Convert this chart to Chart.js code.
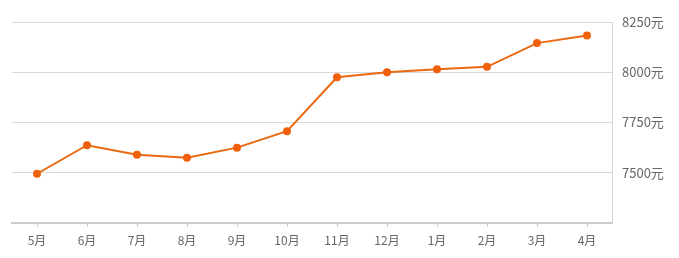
<!DOCTYPE html>
<html><head><meta charset="utf-8">
<script src="https://cdn.jsdelivr.net/npm/chart.js@4"></script>
<style>html,body{margin:0;padding:0;background:#fff}#wrap{width:679px;height:258px;position:relative}</style>
</head><body><div id="wrap"><canvas id="c" width="679" height="258"></canvas></div>
<script>
const categories = ['5月','6月','7月','8月','9月','10月','11月','12月','1月','2月','3月','4月'];
const prices = [7495, 7637, 7590, 7575, 7625, 7707, 7975, 8000, 8015, 8027, 8145, 8183];
const yTicks = [7250, 7500, 7750, 8000, 8250];
const unit = '元';

new Chart(document.getElementById('c'), {
  type: 'line',
  data: { labels: categories, datasets: [{
    data: prices,
    borderColor: '#e8690f',
    borderWidth: 2,
    pointBackgroundColor: '#f0600a',
    pointBorderColor: '#f0600a',
    pointRadius: 4,
    pointBorderWidth: 0,
    tension: 0,
    fill: false
  }]},
  options: {
    responsive: false,
    animation: false,
    devicePixelRatio: 1,
    layout: { padding: { left: 12, top: 22, right: 0, bottom: 0 } },
    plugins: { legend: { display: false }, tooltip: { enabled: false } },
    scales: {
      x: {
        offset: true,
        grid: { drawOnChartArea: false, drawTicks: true, tickLength: 4, color: '#cccccc', offset: false },
        border: { display: true, color: '#cccccc', width: 2 },
        ticks: { color: '#666', font: { family: '"Noto Sans CJK SC", sans-serif', size: 12 }, padding: 6, maxRotation: 0, autoSkip: false },
        afterFit: s => { s.height = 35; }
      },
      y: {
        position: 'right',
        min: yTicks[0], max: yTicks[yTicks.length - 1],
        afterBuildTicks: s => { s.ticks = yTicks.map(v => ({ value: v })); },
        grid: { color: '#dadada', drawTicks: false, lineWidth: 1 },
        border: { display: true, color: '#d6d6d6', width: 1 },
        ticks: { color: '#666', padding: 10, font: { family: '"Noto Sans CJK SC", sans-serif', size: 13 },
          callback: v => v === yTicks[0] ? '' : v + unit },
        afterFit: s => { s.width = 67; }
      }
    }
  }
});
</script></body></html>
